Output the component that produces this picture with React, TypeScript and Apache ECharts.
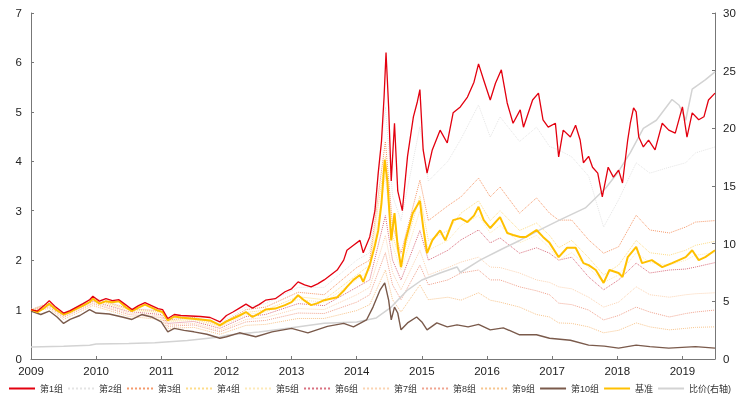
import React, { useEffect, useRef } from "react";
import * as echarts from "echarts";

const seriesNames = ["第1组", "第2组", "第3组", "第4组", "第5组", "第6组", "第7组", "第8组", "第9组", "第10组", "基准", "比价(右轴)"];
const yearTicks = [2009, 2010, 2011, 2012, 2013, 2014, 2015, 2016, 2017, 2018, 2019];

// Shared sampling dates (decimal years) for the faint dotted groups
const gridT = [2009.0, 2009.28, 2009.5, 2009.95, 2010.5, 2011.0, 2011.1, 2011.5, 2011.9, 2012.3, 2012.6, 2013.1, 2013.5, 2014.0, 2014.2, 2014.44, 2014.55, 2014.68, 2014.97, 2015.1, 2015.4, 2015.6, 2015.87, 2016.05, 2016.2, 2016.5, 2016.76, 2016.96, 2017.1, 2017.3, 2017.56, 2017.79, 2018.02, 2018.29, 2018.5, 2018.8, 2019.05, 2019.2, 2019.5];

const group2 = [1.0, 1.15, 0.92, 1.25, 1.03, 0.98, 0.8, 0.85, 0.72, 1.05, 1.12, 1.45, 1.45, 2.0, 2.15, 5.1, 3.3, 2.8, 4.7, 3.6, 4.0, 4.45, 5.14, 4.49, 4.9, 4.4, 4.69, 4.3, 4.23, 4.09, 3.7, 2.67, 3.22, 3.97, 3.76, 3.88, 3.97, 4.17, 4.29];
const group3 = [1.0, 1.13, 0.91, 1.23, 1.02, 0.97, 0.79, 0.84, 0.7, 1.0, 1.05, 1.35, 1.3, 1.85, 2.0, 4.4, 2.7, 2.14, 3.62, 2.8, 3.1, 3.28, 3.66, 3.28, 3.48, 2.95, 3.26, 2.95, 2.81, 2.81, 2.41, 2.14, 2.27, 2.91, 2.61, 2.55, 2.67, 2.77, 2.8];
const group4 = [1.0, 1.12, 0.9, 1.21, 1.0, 0.95, 0.77, 0.81, 0.67, 0.94, 0.99, 1.26, 1.2, 1.7, 1.9, 4.1, 2.5, 1.95, 3.3, 2.4, 2.6, 2.95, 3.2, 2.8, 3.0, 2.6, 2.75, 2.5, 2.25, 2.4, 2.05, 1.7, 1.9, 2.4, 2.15, 2.1, 2.2, 2.3, 2.38];
const group5 = [0.99, 1.1, 0.89, 1.19, 0.98, 0.93, 0.75, 0.79, 0.65, 0.9, 0.95, 1.2, 1.15, 1.6, 1.8, 3.7, 2.3, 1.8, 3.0, 2.2, 2.4, 2.7, 2.9, 2.55, 2.7, 2.35, 2.5, 2.25, 2.0, 2.15, 1.85, 1.55, 1.7, 2.15, 1.95, 1.9, 2.0, 2.1, 2.15];
const group6 = [0.99, 1.09, 0.88, 1.17, 0.96, 0.9, 0.72, 0.76, 0.62, 0.86, 0.9, 1.12, 1.08, 1.45, 1.6, 2.9, 2.0, 1.6, 2.6, 2.0, 2.2, 2.41, 2.61, 2.35, 2.45, 2.14, 2.25, 2.14, 2.0, 2.06, 1.66, 1.4, 1.6, 1.94, 1.74, 1.8, 1.82, 1.86, 1.95];
const group7 = [0.98, 1.07, 0.86, 1.14, 0.93, 0.87, 0.69, 0.72, 0.58, 0.8, 0.84, 1.02, 1.0, 1.3, 1.45, 2.5, 1.75, 1.4, 2.2, 1.7, 1.85, 1.96, 2.06, 1.86, 1.85, 1.74, 1.6, 1.55, 1.46, 1.42, 1.25, 1.05, 1.15, 1.46, 1.3, 1.25, 1.3, 1.32, 1.34];
const group8 = [0.98, 1.05, 0.84, 1.12, 0.9, 0.84, 0.66, 0.69, 0.55, 0.75, 0.78, 0.93, 0.92, 1.15, 1.3, 2.15, 1.5, 1.2, 1.9, 1.5, 1.6, 1.74, 1.8, 1.6, 1.6, 1.46, 1.38, 1.3, 1.13, 1.1, 0.99, 0.79, 0.88, 1.05, 0.95, 0.85, 0.92, 0.95, 0.99];
const group9 = [0.97, 1.02, 0.8, 1.08, 0.86, 0.8, 0.62, 0.64, 0.5, 0.68, 0.7, 0.82, 0.82, 0.98, 1.1, 1.8, 1.2, 0.95, 1.5, 1.2, 1.25, 1.19, 1.34, 1.19, 1.15, 1.05, 0.9, 0.85, 0.73, 0.72, 0.65, 0.53, 0.58, 0.73, 0.65, 0.59, 0.62, 0.64, 0.65];

// [decimal year, value]
const group1 = [[2009.0,1.0],[2009.1,0.97],[2009.2,1.08],[2009.28,1.18],[2009.38,1.05],[2009.5,0.93],[2009.6,0.98],[2009.7,1.05],[2009.8,1.12],[2009.9,1.2],[2009.95,1.27],[2010.05,1.17],[2010.15,1.22],[2010.25,1.18],[2010.35,1.2],[2010.45,1.1],[2010.55,1.0],[2010.65,1.08],[2010.75,1.14],[2010.85,1.08],[2010.95,1.02],[2011.02,1.0],[2011.1,0.82],[2011.2,0.9],[2011.3,0.88],[2011.45,0.87],[2011.6,0.86],[2011.75,0.84],[2011.9,0.75],[2012.0,0.88],[2012.1,0.95],[2012.2,1.03],[2012.3,1.11],[2012.4,1.03],[2012.5,1.1],[2012.6,1.19],[2012.75,1.22],[2012.9,1.36],[2013.0,1.42],[2013.1,1.56],[2013.2,1.5],[2013.3,1.46],[2013.4,1.52],[2013.5,1.6],[2013.6,1.7],[2013.7,1.8],[2013.8,2.0],[2013.85,2.2],[2013.95,2.3],[2014.05,2.4],[2014.1,2.15],[2014.2,2.47],[2014.28,3.0],[2014.33,3.76],[2014.38,4.4],[2014.42,5.3],[2014.45,6.2],[2014.49,5.1],[2014.53,3.6],[2014.58,4.77],[2014.63,3.4],[2014.7,3.0],[2014.78,4.1],[2014.87,4.9],[2014.93,5.2],[2014.97,5.45],[2015.02,4.23],[2015.08,3.76],[2015.16,4.23],[2015.28,4.63],[2015.39,4.37],[2015.48,4.98],[2015.59,5.1],[2015.7,5.3],[2015.8,5.6],[2015.87,5.97],[2015.95,5.64],[2016.05,5.24],[2016.13,5.58],[2016.22,5.85],[2016.31,5.18],[2016.4,4.77],[2016.51,5.04],[2016.56,4.69],[2016.7,5.24],[2016.79,5.38],[2016.86,4.84],[2016.94,4.69],[2017.05,4.77],[2017.1,4.09],[2017.17,4.63],[2017.28,4.49],[2017.36,4.73],[2017.43,4.43],[2017.48,3.97],[2017.56,4.1],[2017.62,3.88],[2017.7,3.76],[2017.77,3.28],[2017.86,3.88],[2017.94,3.68],[2018.02,3.82],[2018.08,3.56],[2018.16,4.43],[2018.2,4.77],[2018.25,5.08],[2018.29,5.0],[2018.33,4.49],[2018.4,4.29],[2018.48,4.43],[2018.58,4.23],[2018.69,4.77],[2018.79,4.63],[2018.89,4.57],[2019.0,5.1],[2019.07,4.49],[2019.15,4.98],[2019.25,4.84],[2019.33,4.9],[2019.4,5.24],[2019.5,5.38]];

const benchmark = [[2009.0,1.0],[2009.1,0.95],[2009.2,1.03],[2009.28,1.12],[2009.38,1.0],[2009.5,0.9],[2009.6,0.95],[2009.7,1.02],[2009.8,1.08],[2009.9,1.15],[2009.95,1.22],[2010.05,1.12],[2010.15,1.17],[2010.25,1.15],[2010.35,1.17],[2010.45,1.05],[2010.55,0.97],[2010.65,1.04],[2010.75,1.1],[2010.85,1.04],[2010.95,0.98],[2011.02,0.95],[2011.1,0.78],[2011.2,0.86],[2011.3,0.84],[2011.45,0.82],[2011.6,0.8],[2011.75,0.78],[2011.9,0.68],[2012.0,0.76],[2012.1,0.82],[2012.2,0.88],[2012.3,0.95],[2012.4,0.85],[2012.5,0.92],[2012.6,1.0],[2012.75,1.02],[2012.9,1.09],[2013.0,1.15],[2013.1,1.29],[2013.2,1.18],[2013.3,1.09],[2013.4,1.13],[2013.5,1.19],[2013.6,1.22],[2013.7,1.25],[2013.8,1.38],[2013.85,1.46],[2013.95,1.6],[2014.05,1.7],[2014.1,1.56],[2014.2,1.9],[2014.28,2.3],[2014.33,2.6],[2014.38,3.15],[2014.43,4.03],[2014.47,3.6],[2014.53,2.4],[2014.58,2.95],[2014.63,2.27],[2014.68,1.86],[2014.75,2.4],[2014.86,2.95],[2014.97,3.2],[2015.02,2.67],[2015.08,2.14],[2015.16,2.4],[2015.28,2.6],[2015.36,2.4],[2015.48,2.81],[2015.59,2.85],[2015.7,2.77],[2015.8,2.9],[2015.87,3.08],[2015.95,2.81],[2016.05,2.65],[2016.2,2.87],[2016.31,2.55],[2016.4,2.51],[2016.51,2.47],[2016.6,2.47],[2016.76,2.61],[2016.86,2.47],[2016.96,2.35],[2017.1,2.06],[2017.23,2.25],[2017.36,2.25],[2017.48,1.94],[2017.56,1.9],[2017.67,1.8],[2017.79,1.54],[2017.88,1.8],[2018.02,1.74],[2018.08,1.66],[2018.16,2.06],[2018.29,2.27],[2018.38,1.94],[2018.53,2.0],[2018.69,1.86],[2018.84,1.94],[2019.05,2.06],[2019.15,2.2],[2019.25,2.0],[2019.35,2.06],[2019.5,2.2]];

const group10 = [[2009.0,0.97],[2009.15,0.9],[2009.28,0.97],[2009.4,0.85],[2009.5,0.72],[2009.6,0.8],[2009.75,0.88],[2009.9,1.0],[2010.0,0.93],[2010.2,0.91],[2010.4,0.85],[2010.55,0.8],[2010.7,0.9],[2010.85,0.85],[2011.0,0.75],[2011.1,0.55],[2011.2,0.62],[2011.35,0.58],[2011.5,0.55],[2011.7,0.5],[2011.9,0.42],[2012.0,0.45],[2012.2,0.53],[2012.45,0.45],[2012.7,0.55],[2013.0,0.62],[2013.25,0.53],[2013.55,0.66],[2013.8,0.72],[2013.95,0.65],[2014.15,0.79],[2014.25,1.05],[2014.36,1.4],[2014.43,1.54],[2014.49,1.19],[2014.53,0.79],[2014.58,1.05],[2014.63,0.93],[2014.68,0.59],[2014.78,0.73],[2014.92,0.85],[2015.0,0.75],[2015.08,0.59],[2015.23,0.73],[2015.39,0.65],[2015.54,0.69],[2015.71,0.65],[2015.87,0.7],[2016.05,0.59],[2016.25,0.63],[2016.5,0.49],[2016.76,0.49],[2016.96,0.42],[2017.28,0.38],[2017.56,0.28],[2017.8,0.26],[2018.02,0.22],[2018.29,0.28],[2018.5,0.25],[2018.79,0.22],[2019.2,0.25],[2019.5,0.22]];

// relative price, right axis
const priceRatio = [[2009.0,1.05],[2009.5,1.1],[2009.9,1.2],[2010.0,1.3],[2010.5,1.35],[2010.9,1.4],[2011.4,1.6],[2011.9,1.9],[2012.0,2.05],[2012.5,2.35],[2013.0,2.7],[2013.5,3.1],[2014.0,3.2],[2014.3,3.56],[2014.53,4.5],[2014.78,5.98],[2015.0,6.85],[2015.28,7.46],[2015.54,7.98],[2015.59,7.5],[2015.9,8.59],[2016.2,9.45],[2016.51,10.3],[2016.81,11.2],[2017.12,12.06],[2017.51,13.1],[2017.82,14.8],[2018.0,16.1],[2018.2,17.9],[2018.4,20.0],[2018.6,20.7],[2018.84,22.5],[2018.95,22.0],[2019.05,20.7],[2019.15,23.4],[2019.35,24.2],[2019.5,24.9]];

const FONT = "'Liberation Sans', Arial, 'Noto Sans CJK SC', sans-serif";

export default function App() {
  const ref = useRef<HTMLDivElement>(null);
  useEffect(() => {
    if (!ref.current) return;
    const chart = echarts.init(ref.current, null, { renderer: "svg" });
    const onGrid = (vals: number[]) => vals.map((v, i) => [gridT[i], v]);
    const dotted = (name: string, data: number[][], color: string) => ({
      name, type: "line", data, yAxisIndex: 0, symbol: "none", showSymbol: false,
      lineStyle: { color, width: 1, type: "dotted" }, itemStyle: { color }, z: 2,
    });
    const solid = (name: string, data: number[][], color: string, width: number, yAxisIndex = 0, z = 3) => ({
      name, type: "line", data, yAxisIndex, symbol: "none", showSymbol: false,
      lineStyle: { color, width, type: "solid" }, itemStyle: { color }, z,
    });
    const axisLine = { show: true, lineStyle: { color: "#777", width: 1 } };
    const axisTick = { show: true, inside: true, length: 3, lineStyle: { color: "#777" } };
    const label = { color: "#222", fontSize: 11.5, fontFamily: FONT };
    chart.setOption({
      animation: false,
      textStyle: { fontFamily: FONT },
      grid: { left: 31, right: 29, top: 13, bottom: 40 },
      legend: {
        data: seriesNames,
        bottom: 6, left: 8, right: 0,
        padding: 0,
        itemWidth: 26, itemHeight: 8, itemGap: 4,
        itemStyle: { opacity: 0 },
        textStyle: { fontSize: 9, color: "#333", fontFamily: FONT },
      },
      xAxis: {
        type: "value", min: 2009, max: 2019.5, interval: 1,
        axisLine, axisTick, splitLine: { show: false },
        axisLabel: {
          ...label, margin: 6,
          formatter: (v: number) => (yearTicks.includes(v) ? String(v) : ""),
        },
      },
      yAxis: [
        { type: "value", min: 0, max: 7, interval: 1, axisLine, axisTick, splitLine: { show: false }, axisLabel: { ...label, margin: 9 } },
        { type: "value", min: 0, max: 30, interval: 5, position: "right", axisLine, axisTick, splitLine: { show: false }, axisLabel: { ...label, margin: 8 } },
      ],
      series: [
        dotted("第9组", onGrid(group9), "#f7c58e"),
        dotted("第8组", onGrid(group8), "#f0a48f"),
        dotted("第7组", onGrid(group7), "#fbd3b2"),
        dotted("第6组", onGrid(group6), "#d9707f"),
        dotted("第5组", onGrid(group5), "#fde9b8"),
        dotted("第4组", onGrid(group4), "#fddc8a"),
        dotted("第3组", onGrid(group3), "#f59a6c"),
        dotted("第2组", onGrid(group2), "#e4e4e4"),
        solid("比价(右轴)", priceRatio, "#d3d3d3", 1.5, 1, 3),
        solid("第10组", group10, "#7a5a4b", 1.4, 0, 4),
        solid("基准", benchmark, "#ffc000", 2, 0, 5),
        solid("第1组", group1, "#e3000f", 1.3, 0, 6),
      ],
    });
    return () => chart.dispose();
  }, []);
  return <div ref={ref} style={{ position: "fixed", left: 0, top: 0, width: 744, height: 399 }} />;
}
